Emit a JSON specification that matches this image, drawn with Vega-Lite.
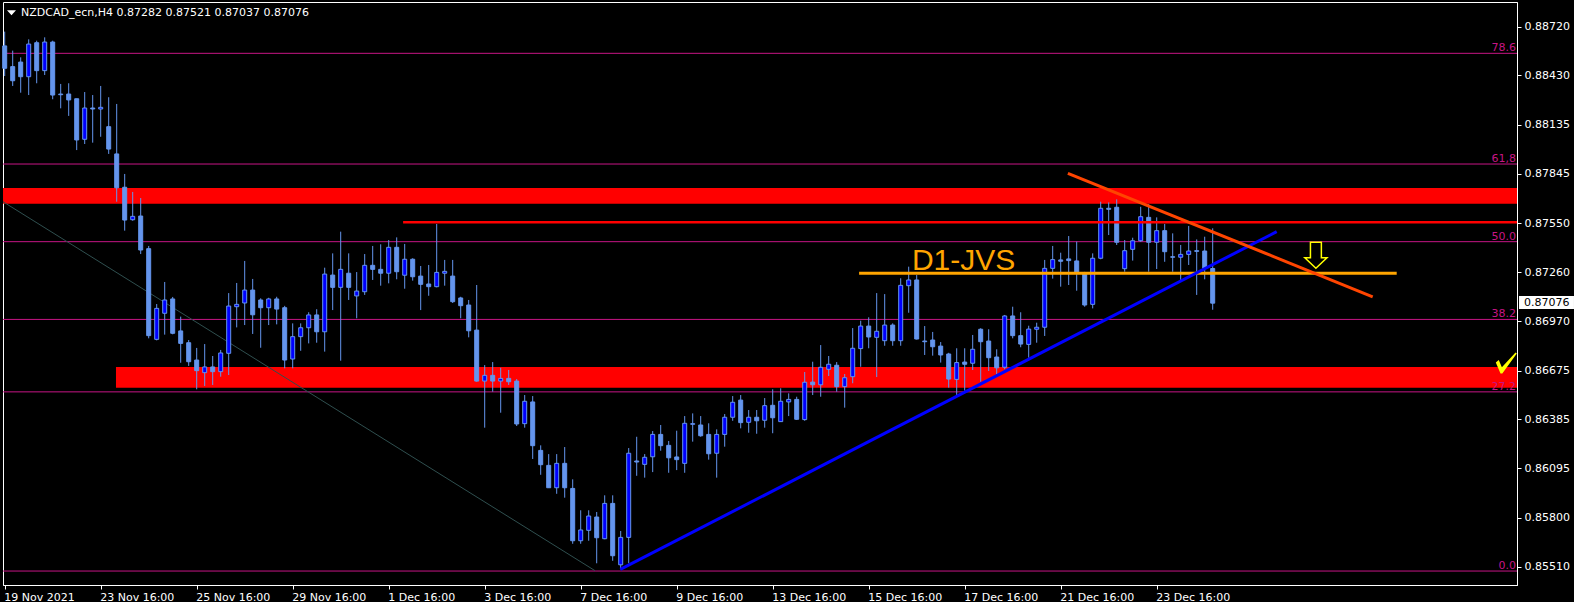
{
"$schema": "https://vega.github.io/schema/vega-lite/v6.json",
"width": 1514, "height": 583,
"padding": {"left": 2, "top": 2, "right": 0, "bottom": 0},
"background": "black",
"config": {"view": {"stroke": "white", "strokeWidth": 1}, "scale": {"continuousPadding": 0}, "axis": {"labelFont": "DejaVu Sans", "labelFontSize": 11, "labelColor": "white", "tickColor": "white", "domainColor": "white", "grid": false}, "text": {"font": "DejaVu Sans"}},
"datasets": {"candles": [
{"i":0,"o":0.88605,"h":0.88690,"l":0.88426,"c":0.88472},
{"i":1,"o":0.88482,"h":0.88577,"l":0.88367,"c":0.88398},
{"i":2,"o":0.88509,"h":0.88537,"l":0.88327,"c":0.88422},
{"i":3,"o":0.88422,"h":0.88644,"l":0.88313,"c":0.88616},
{"i":4,"o":0.88624,"h":0.88636,"l":0.88383,"c":0.88458},
{"i":5,"o":0.88458,"h":0.88656,"l":0.88432,"c":0.88628},
{"i":6,"o":0.88628,"h":0.88636,"l":0.88288,"c":0.88313},
{"i":7,"o":0.88319,"h":0.88379,"l":0.88234,"c":0.88315},
{"i":8,"o":0.88319,"h":0.88383,"l":0.88189,"c":0.88284},
{"i":9,"o":0.88291,"h":0.88291,"l":0.87986,"c":0.88046},
{"i":10,"o":0.88050,"h":0.88331,"l":0.88022,"c":0.88236},
{"i":11,"o":0.88236,"h":0.88313,"l":0.88030,"c":0.88230},
{"i":12,"o":0.88230,"h":0.88367,"l":0.88065,"c":0.88240},
{"i":13,"o":0.88125,"h":0.88300,"l":0.87963,"c":0.87992},
{"i":14,"o":0.87963,"h":0.88260,"l":0.87679,"c":0.87762},
{"i":15,"o":0.87765,"h":0.87844,"l":0.87507,"c":0.87570},
{"i":16,"o":0.87572,"h":0.87737,"l":0.87566,"c":0.87592},
{"i":17,"o":0.87594,"h":0.87701,"l":0.87368,"c":0.87392},
{"i":18,"o":0.87400,"h":0.87416,"l":0.86867,"c":0.86883},
{"i":19,"o":0.86861,"h":0.87071,"l":0.86855,"c":0.87045},
{"i":20,"o":0.87016,"h":0.87202,"l":0.86889,"c":0.87095},
{"i":21,"o":0.87101,"h":0.87113,"l":0.86891,"c":0.86897},
{"i":22,"o":0.86911,"h":0.86996,"l":0.86722,"c":0.86837},
{"i":23,"o":0.86841,"h":0.86857,"l":0.86703,"c":0.86728},
{"i":24,"o":0.86738,"h":0.86810,"l":0.86564,"c":0.86675},
{"i":25,"o":0.86663,"h":0.86833,"l":0.86584,"c":0.86697},
{"i":26,"o":0.86697,"h":0.86762,"l":0.86590,"c":0.86669},
{"i":27,"o":0.86669,"h":0.86798,"l":0.86639,"c":0.86780},
{"i":28,"o":0.86778,"h":0.87136,"l":0.86649,"c":0.87059},
{"i":29,"o":0.87055,"h":0.87196,"l":0.86932,"c":0.87069},
{"i":30,"o":0.87077,"h":0.87327,"l":0.86946,"c":0.87154},
{"i":31,"o":0.87154,"h":0.87220,"l":0.86893,"c":0.87007},
{"i":32,"o":0.87095,"h":0.87105,"l":0.86811,"c":0.87049},
{"i":33,"o":0.87049,"h":0.87108,"l":0.86946,"c":0.87101},
{"i":34,"o":0.87101,"h":0.87114,"l":0.86950,"c":0.87041},
{"i":35,"o":0.87049,"h":0.87060,"l":0.86689,"c":0.86738},
{"i":36,"o":0.86744,"h":0.86956,"l":0.86689,"c":0.86877},
{"i":37,"o":0.86877,"h":0.86956,"l":0.86793,"c":0.86930},
{"i":38,"o":0.86930,"h":0.87022,"l":0.86837,"c":0.87006},
{"i":39,"o":0.87006,"h":0.87040,"l":0.86841,"c":0.86906},
{"i":40,"o":0.86906,"h":0.87287,"l":0.86788,"c":0.87249},
{"i":41,"o":0.87243,"h":0.87372,"l":0.87035,"c":0.87170},
{"i":42,"o":0.87170,"h":0.87501,"l":0.86734,"c":0.87277},
{"i":43,"o":0.87254,"h":0.87372,"l":0.87095,"c":0.87170},
{"i":44,"o":0.87119,"h":0.87261,"l":0.86986,"c":0.87148},
{"i":45,"o":0.87144,"h":0.87368,"l":0.87125,"c":0.87301},
{"i":46,"o":0.87301,"h":0.87416,"l":0.87214,"c":0.87277},
{"i":47,"o":0.87277,"h":0.87426,"l":0.87180,"c":0.87254},
{"i":48,"o":0.87254,"h":0.87451,"l":0.87194,"c":0.87408},
{"i":49,"o":0.87408,"h":0.87467,"l":0.87218,"c":0.87263},
{"i":50,"o":0.87242,"h":0.87428,"l":0.87162,"c":0.87337},
{"i":51,"o":0.87337,"h":0.87343,"l":0.87210,"c":0.87233},
{"i":52,"o":0.87237,"h":0.87297,"l":0.87035,"c":0.87188},
{"i":53,"o":0.87190,"h":0.87303,"l":0.87120,"c":0.87174},
{"i":54,"o":0.87174,"h":0.87547,"l":0.87170,"c":0.87259},
{"i":55,"o":0.87254,"h":0.87333,"l":0.87180,"c":0.87265},
{"i":56,"o":0.87237,"h":0.87333,"l":0.87077,"c":0.87085},
{"i":57,"o":0.87107,"h":0.87114,"l":0.86986,"c":0.87061},
{"i":58,"o":0.87065,"h":0.87095,"l":0.86873,"c":0.86912},
{"i":59,"o":0.86916,"h":0.87184,"l":0.86609,"c":0.86613},
{"i":60,"o":0.86613,"h":0.86708,"l":0.86336,"c":0.86647},
{"i":61,"o":0.86647,"h":0.86726,"l":0.86550,"c":0.86613},
{"i":62,"o":0.86613,"h":0.86692,"l":0.86425,"c":0.86629},
{"i":63,"o":0.86629,"h":0.86679,"l":0.86590,"c":0.86609},
{"i":64,"o":0.86613,"h":0.86625,"l":0.86346,"c":0.86358},
{"i":65,"o":0.86360,"h":0.86530,"l":0.86336,"c":0.86493},
{"i":66,"o":0.86489,"h":0.86524,"l":0.86150,"c":0.86229},
{"i":67,"o":0.86201,"h":0.86231,"l":0.86056,"c":0.86116},
{"i":68,"o":0.86112,"h":0.86179,"l":0.85979,"c":0.85979},
{"i":69,"o":0.85979,"h":0.86179,"l":0.85943,"c":0.86124},
{"i":70,"o":0.86124,"h":0.86221,"l":0.85920,"c":0.85979},
{"i":71,"o":0.85975,"h":0.86029,"l":0.85646,"c":0.85664},
{"i":72,"o":0.85664,"h":0.85845,"l":0.85646,"c":0.85728},
{"i":73,"o":0.85726,"h":0.85845,"l":0.85664,"c":0.85811},
{"i":74,"o":0.85805,"h":0.85835,"l":0.85530,"c":0.85682},
{"i":75,"o":0.85676,"h":0.85934,"l":0.85673,"c":0.85886},
{"i":76,"o":0.85886,"h":0.85934,"l":0.85545,"c":0.85575},
{"i":77,"o":0.85521,"h":0.85722,"l":0.85494,"c":0.85684},
{"i":78,"o":0.85684,"h":0.86215,"l":0.85530,"c":0.86184},
{"i":79,"o":0.86138,"h":0.86282,"l":0.86050,"c":0.86132},
{"i":80,"o":0.86118,"h":0.86179,"l":0.86039,"c":0.86160},
{"i":81,"o":0.86163,"h":0.86316,"l":0.86072,"c":0.86296},
{"i":82,"o":0.86296,"h":0.86352,"l":0.86199,"c":0.86229},
{"i":83,"o":0.86231,"h":0.86257,"l":0.86068,"c":0.86157},
{"i":84,"o":0.86162,"h":0.86318,"l":0.86084,"c":0.86146},
{"i":85,"o":0.86124,"h":0.86405,"l":0.86068,"c":0.86362},
{"i":86,"o":0.86356,"h":0.86421,"l":0.86253,"c":0.86360},
{"i":87,"o":0.86352,"h":0.86405,"l":0.86282,"c":0.86288},
{"i":88,"o":0.86296,"h":0.86362,"l":0.86146,"c":0.86181},
{"i":89,"o":0.86184,"h":0.86326,"l":0.86039,"c":0.86296},
{"i":90,"o":0.86296,"h":0.86417,"l":0.86223,"c":0.86398},
{"i":91,"o":0.86398,"h":0.86524,"l":0.86377,"c":0.86487},
{"i":92,"o":0.86500,"h":0.86530,"l":0.86332,"c":0.86366},
{"i":93,"o":0.86368,"h":0.86441,"l":0.86306,"c":0.86398},
{"i":94,"o":0.86398,"h":0.86441,"l":0.86300,"c":0.86377},
{"i":95,"o":0.86380,"h":0.86512,"l":0.86336,"c":0.86467},
{"i":96,"o":0.86469,"h":0.86564,"l":0.86303,"c":0.86395},
{"i":97,"o":0.86372,"h":0.86570,"l":0.86372,"c":0.86493},
{"i":98,"o":0.86489,"h":0.86540,"l":0.86405,"c":0.86504},
{"i":99,"o":0.86504,"h":0.86520,"l":0.86382,"c":0.86386},
{"i":100,"o":0.86384,"h":0.86667,"l":0.86377,"c":0.86606},
{"i":101,"o":0.86607,"h":0.86728,"l":0.86530,"c":0.86591},
{"i":102,"o":0.86591,"h":0.86827,"l":0.86520,"c":0.86695},
{"i":103,"o":0.86683,"h":0.86762,"l":0.86643,"c":0.86713},
{"i":104,"o":0.86707,"h":0.86726,"l":0.86550,"c":0.86580},
{"i":105,"o":0.86580,"h":0.86655,"l":0.86455,"c":0.86633},
{"i":106,"o":0.86639,"h":0.86928,"l":0.86600,"c":0.86808},
{"i":107,"o":0.86806,"h":0.86972,"l":0.86698,"c":0.86940},
{"i":108,"o":0.86940,"h":0.86992,"l":0.86808,"c":0.86875},
{"i":109,"o":0.86873,"h":0.87136,"l":0.86637,"c":0.86909},
{"i":110,"o":0.86853,"h":0.87130,"l":0.86823,"c":0.86946},
{"i":111,"o":0.86946,"h":0.86956,"l":0.86823,"c":0.86853},
{"i":112,"o":0.86853,"h":0.87224,"l":0.86823,"c":0.87182},
{"i":113,"o":0.87180,"h":0.87293,"l":0.87019,"c":0.87214},
{"i":114,"o":0.87214,"h":0.87243,"l":0.86860,"c":0.86863},
{"i":115,"o":0.86851,"h":0.86940,"l":0.86768,"c":0.86847},
{"i":116,"o":0.86857,"h":0.86905,"l":0.86764,"c":0.86817},
{"i":117,"o":0.86821,"h":0.86845,"l":0.86723,"c":0.86768},
{"i":118,"o":0.86774,"h":0.86781,"l":0.86574,"c":0.86625},
{"i":119,"o":0.86623,"h":0.86808,"l":0.86530,"c":0.86723},
{"i":120,"o":0.86726,"h":0.86808,"l":0.86556,"c":0.86713},
{"i":121,"o":0.86719,"h":0.86887,"l":0.86679,"c":0.86802},
{"i":122,"o":0.86921,"h":0.86927,"l":0.86609,"c":0.86847},
{"i":123,"o":0.86851,"h":0.86921,"l":0.86673,"c":0.86752},
{"i":124,"o":0.86756,"h":0.86802,"l":0.86655,"c":0.86692},
{"i":125,"o":0.86695,"h":0.87006,"l":0.86683,"c":0.87000},
{"i":126,"o":0.87000,"h":0.87055,"l":0.86867,"c":0.86883},
{"i":127,"o":0.86883,"h":0.87022,"l":0.86814,"c":0.86833},
{"i":128,"o":0.86831,"h":0.86942,"l":0.86752,"c":0.86922},
{"i":129,"o":0.86921,"h":0.86960,"l":0.86841,"c":0.86933},
{"i":130,"o":0.86933,"h":0.87333,"l":0.86881,"c":0.87283},
{"i":131,"o":0.87283,"h":0.87416,"l":0.87222,"c":0.87335},
{"i":132,"o":0.87333,"h":0.87376,"l":0.87174,"c":0.87325},
{"i":133,"o":0.87339,"h":0.87475,"l":0.87184,"c":0.87329},
{"i":134,"o":0.87327,"h":0.87442,"l":0.87150,"c":0.87257},
{"i":135,"o":0.87257,"h":0.87262,"l":0.87055,"c":0.87065},
{"i":136,"o":0.87069,"h":0.87372,"l":0.87045,"c":0.87343},
{"i":137,"o":0.87343,"h":0.87679,"l":0.87337,"c":0.87640},
{"i":138,"o":0.87640,"h":0.87675,"l":0.87481,"c":0.87634},
{"i":139,"o":0.87646,"h":0.87693,"l":0.87422,"c":0.87438},
{"i":140,"o":0.87281,"h":0.87451,"l":0.87263,"c":0.87388},
{"i":141,"o":0.87396,"h":0.87465,"l":0.87329,"c":0.87447},
{"i":142,"o":0.87447,"h":0.87649,"l":0.87441,"c":0.87590},
{"i":143,"o":0.87586,"h":0.87665,"l":0.87263,"c":0.87438},
{"i":144,"o":0.87438,"h":0.87586,"l":0.87279,"c":0.87507},
{"i":145,"o":0.87507,"h":0.87547,"l":0.87322,"c":0.87382},
{"i":146,"o":0.87352,"h":0.87491,"l":0.87263,"c":0.87349},
{"i":147,"o":0.87349,"h":0.87422,"l":0.87214,"c":0.87366},
{"i":148,"o":0.87366,"h":0.87535,"l":0.87303,"c":0.87386},
{"i":149,"o":0.87388,"h":0.87455,"l":0.87125,"c":0.87384},
{"i":150,"o":0.87386,"h":0.87471,"l":0.87218,"c":0.87283},
{"i":151,"o":0.87282,"h":0.87521,"l":0.87037,"c":0.87076}
]},
"layer": [
{"data": {"values": [{"a": -0.2125, "b": 189.0375, "lo": 0.87667, "hi": 0.87761}, {"a": 13.91, "b": 189.0375, "lo": 0.86574, "hi": 0.86697}]},
 "mark": {"type": "rect", "color": "#FF0000"},
 "encoding": {
  "x": {"field": "a", "type": "quantitative", "title": null, "scale": {"domain": [-0.2125, 189.0375], "nice": false, "zero": false, "padding": 0},
        "axis": {"values": [0,12,24,36,48,60,72,84,96,108,120,132,144], "labelExpr": "['19 Nov 2021','23 Nov 16:00','25 Nov 16:00','29 Nov 16:00','1 Dec 16:00','3 Dec 16:00','7 Dec 16:00','9 Dec 16:00','13 Dec 16:00','15 Dec 16:00','17 Dec 16:00','21 Dec 16:00','23 Dec 16:00'][round(datum.value/12)]", "labelAlign": "left", "labelFlush": false, "labelOverlap": false, "labelBound": false, "tickSize": 4, "labelPadding": 2, "labelOffset": -1}},
  "x2": {"field": "b"},
  "y": {"field": "lo", "type": "quantitative", "title": null, "scale": {"domain": [0.85401, 0.88866], "nice": false, "zero": false, "padding": 0},
        "axis": {"orient": "right", "values": [0.85510,0.85800,0.86095,0.86385,0.86675,0.86970,0.87260,0.87550,0.87845,0.88135,0.88430,0.88720], "format": ".5f", "tickSize": 4, "labelPadding": 3, "labelOverlap": false, "labelFlush": false, "labelBound": false}},
  "y2": {"field": "hi"}}},
{"data": {"values": [{"p": 0.88561, "t": "78.6"}, {"p": 0.87903, "t": "61,8"}, {"p": 0.874415, "t": "50.0"}, {"p": 0.869795, "t": "38.2"}, {"p": 0.865489, "t": "27.2"}, {"p": 0.85484, "t": "0.0"}]},
 "mark": {"type": "rule", "color": "#C71585", "strokeWidth": 1},
 "encoding": {"y": {"field": "p", "type": "quantitative", "title": null, "scale": {"domain": [0.85401, 0.88866], "nice": false, "zero": false, "padding": 0}}}},
{"data": {"values": [{"a": -0.2125, "p": 0.87679, "b": 73.79, "q": 0.85486}]},
 "mark": {"type": "rule", "color": "#2F4F4F", "strokeWidth": 1},
 "encoding": {"x": {"field": "a", "type": "quantitative", "title": null, "scale": {"domain": [-0.2125, 189.0375], "nice": false, "zero": false, "padding": 0}}, "x2": {"field": "b"},
  "y": {"field": "p", "type": "quantitative", "title": null, "scale": {"domain": [0.85401, 0.88866], "nice": false, "zero": false, "padding": 0}}, "y2": {"field": "q"}}},
{"data": {"name": "candles"},
 "mark": {"type": "rule", "color": "#6495ED", "strokeWidth": 1},
 "encoding": {"x": {"field": "i", "type": "quantitative", "title": null, "scale": {"domain": [-0.2125, 189.0375], "nice": false, "zero": false, "padding": 0}},
  "y": {"field": "l", "type": "quantitative", "title": null, "scale": {"domain": [0.85401, 0.88866], "nice": false, "zero": false, "padding": 0}}, "y2": {"field": "h"}}},
{"data": {"name": "candles"},
 "mark": {"type": "bar", "width": 4, "stroke": "#6495ED", "strokeWidth": 1},
 "encoding": {"x": {"field": "i", "type": "quantitative", "title": null, "scale": {"domain": [-0.2125, 189.0375], "nice": false, "zero": false, "padding": 0}},
  "y": {"field": "o", "type": "quantitative", "title": null, "scale": {"domain": [0.85401, 0.88866], "nice": false, "zero": false, "padding": 0}}, "y2": {"field": "c"},
  "fill": {"condition": {"test": "datum.c > datum.o", "value": "#0000FF"}, "value": "#6495ED"}}},
{"data": {"values": [{"a": 49.8, "b": 189.0375, "p": 0.87557}]},
 "mark": {"type": "rule", "color": "#FF0000", "strokeWidth": 2.5},
 "encoding": {"x": {"field": "a", "type": "quantitative", "title": null, "scale": {"domain": [-0.2125, 189.0375], "nice": false, "zero": false, "padding": 0}}, "x2": {"field": "b"},
  "y": {"field": "p", "type": "quantitative", "title": null, "scale": {"domain": [0.85401, 0.88866], "nice": false, "zero": false, "padding": 0}}}},
{"data": {"values": [{"a": 106.8, "b": 174.0, "p": 0.87254}]},
 "mark": {"type": "rule", "color": "#FFA500", "strokeWidth": 3},
 "encoding": {"x": {"field": "a", "type": "quantitative", "title": null, "scale": {"domain": [-0.2125, 189.0375], "nice": false, "zero": false, "padding": 0}}, "x2": {"field": "b"},
  "y": {"field": "p", "type": "quantitative", "title": null, "scale": {"domain": [0.85401, 0.88866], "nice": false, "zero": false, "padding": 0}}}},
{"data": {"values": [{"a": 76.95, "p": 0.85494, "b": 159.0, "q": 0.87501}]},
 "mark": {"type": "rule", "color": "#0000FF", "strokeWidth": 3},
 "encoding": {"x": {"field": "a", "type": "quantitative", "title": null, "scale": {"domain": [-0.2125, 189.0375], "nice": false, "zero": false, "padding": 0}}, "x2": {"field": "b"},
  "y": {"field": "p", "type": "quantitative", "title": null, "scale": {"domain": [0.85401, 0.88866], "nice": false, "zero": false, "padding": 0}}, "y2": {"field": "q"}}},
{"data": {"values": [{"a": 132.9, "p": 0.87848, "b": 171.0, "q": 0.87114}]},
 "mark": {"type": "rule", "color": "#FF4500", "strokeWidth": 3},
 "encoding": {"x": {"field": "a", "type": "quantitative", "title": null, "scale": {"domain": [-0.2125, 189.0375], "nice": false, "zero": false, "padding": 0}}, "x2": {"field": "b"},
  "y": {"field": "p", "type": "quantitative", "title": null, "scale": {"domain": [0.85401, 0.88866], "nice": false, "zero": false, "padding": 0}}, "y2": {"field": "q"}}},
{"data": {"values": [{"t": "D1-JVS"}]},
 "mark": {"type": "text", "align": "left", "baseline": "alphabetic", "font": "Liberation Sans", "fontSize": 30, "color": "#FFA500"},
 "encoding": {"text": {"field": "t"}, "x": {"datum": 113.4, "type": "quantitative", "title": null, "scale": {"domain": [-0.2125, 189.0375], "nice": false, "zero": false, "padding": 0}},
  "y": {"datum": 0.87273, "type": "quantitative", "title": null, "scale": {"domain": [0.85401, 0.88866], "nice": false, "zero": false, "padding": 0}}}},
{"data": {"values": [{"p": 0.88561, "t": "78.6"}, {"p": 0.87903, "t": "61,8"}, {"p": 0.874415, "t": "50.0"}, {"p": 0.869795, "t": "38.2"}, {"p": 0.865489, "t": "27.2"}, {"p": 0.85484, "t": "0.0"}]},
 "mark": {"type": "text", "align": "right", "baseline": "alphabetic", "dx": -1, "dy": -2, "fontSize": 11, "color": "#C71585"},
 "encoding": {"text": {"field": "t"}, "x": {"datum": 189.0375, "type": "quantitative", "title": null, "scale": {"domain": [-0.2125, 189.0375], "nice": false, "zero": false, "padding": 0}},
  "y": {"field": "p", "type": "quantitative", "title": null, "scale": {"domain": [0.85401, 0.88866], "nice": false, "zero": false, "padding": 0}}}},
{"data": {"values": [{}]},
 "mark": {"type": "point", "shape": "M-0.42,-1L0.42,-1L0.42,0.2L0.85,0.2L0,1L-0.85,0.2L-0.42,0.2Z", "size": 676, "filled": true, "fill": "black", "stroke": "#FFFF00", "strokeWidth": 1.5, "opacity": 1},
 "encoding": {"x": {"datum": 163.9, "type": "quantitative", "title": null, "scale": {"domain": [-0.2125, 189.0375], "nice": false, "zero": false, "padding": 0}},
  "y": {"datum": 0.87361, "type": "quantitative", "title": null, "scale": {"domain": [0.85401, 0.88866], "nice": false, "zero": false, "padding": 0}}}},
{"data": {"values": [{}]},
 "mark": {"type": "point", "shape": "M-1,-0.05L-0.72,-0.3L-0.42,0.4L0.88,-1L1,-0.92L-0.38,1L-0.55,1Z", "size": 441, "filled": true, "fill": "#FFFF00", "strokeWidth": 0, "opacity": 1},
 "encoding": {"x": {"datum": 187.7, "type": "quantitative", "title": null, "scale": {"domain": [-0.2125, 189.0375], "nice": false, "zero": false, "padding": 0}},
  "y": {"datum": 0.86720, "type": "quantitative", "title": null, "scale": {"domain": [0.85401, 0.88866], "nice": false, "zero": false, "padding": 0}}}},
{"data": {"values": [{"t": "NZDCAD_ecn,H4  0.87282 0.87521 0.87037 0.87076"}]},
 "mark": {"type": "text", "align": "left", "baseline": "middle", "fontSize": 11, "color": "white"},
 "encoding": {"text": {"field": "t"}, "x": {"datum": 2.04, "type": "quantitative", "title": null, "scale": {"domain": [-0.2125, 189.0375], "nice": false, "zero": false, "padding": 0}},
  "y": {"datum": 0.88803, "type": "quantitative", "title": null, "scale": {"domain": [0.85401, 0.88866], "nice": false, "zero": false, "padding": 0}}}},
{"data": {"values": [{}]},
 "mark": {"type": "point", "shape": "M-1,-0.55L1,-0.55L0,0.55Z", "size": 81, "filled": true, "fill": "white", "strokeWidth": 0, "opacity": 1},
 "encoding": {"x": {"datum": 0.85, "type": "quantitative", "title": null, "scale": {"domain": [-0.2125, 189.0375], "nice": false, "zero": false, "padding": 0}},
  "y": {"datum": 0.88802, "type": "quantitative", "title": null, "scale": {"domain": [0.85401, 0.88866], "nice": false, "zero": false, "padding": 0}}}},
{"data": {"values": [{}]},
 "mark": {"type": "rect", "color": "white"},
 "encoding": {"x": {"datum": 189.29, "type": "quantitative", "title": null, "scale": {"domain": [-0.2125, 189.0375], "nice": false, "zero": false, "padding": 0}}, "x2": {"datum": 196.16},
  "y": {"datum": 0.87041, "type": "quantitative", "title": null, "scale": {"domain": [0.85401, 0.88866], "nice": false, "zero": false, "padding": 0}}, "y2": {"datum": 0.87119}}},
{"data": {"values": [{"t": "0.87076"}]},
 "mark": {"type": "text", "align": "left", "baseline": "middle", "fontSize": 11, "color": "black"},
 "encoding": {"text": {"field": "t"}, "x": {"datum": 189.9, "type": "quantitative", "title": null, "scale": {"domain": [-0.2125, 189.0375], "nice": false, "zero": false, "padding": 0}},
  "y": {"datum": 0.87076, "type": "quantitative", "title": null, "scale": {"domain": [0.85401, 0.88866], "nice": false, "zero": false, "padding": 0}}}}
]
}
